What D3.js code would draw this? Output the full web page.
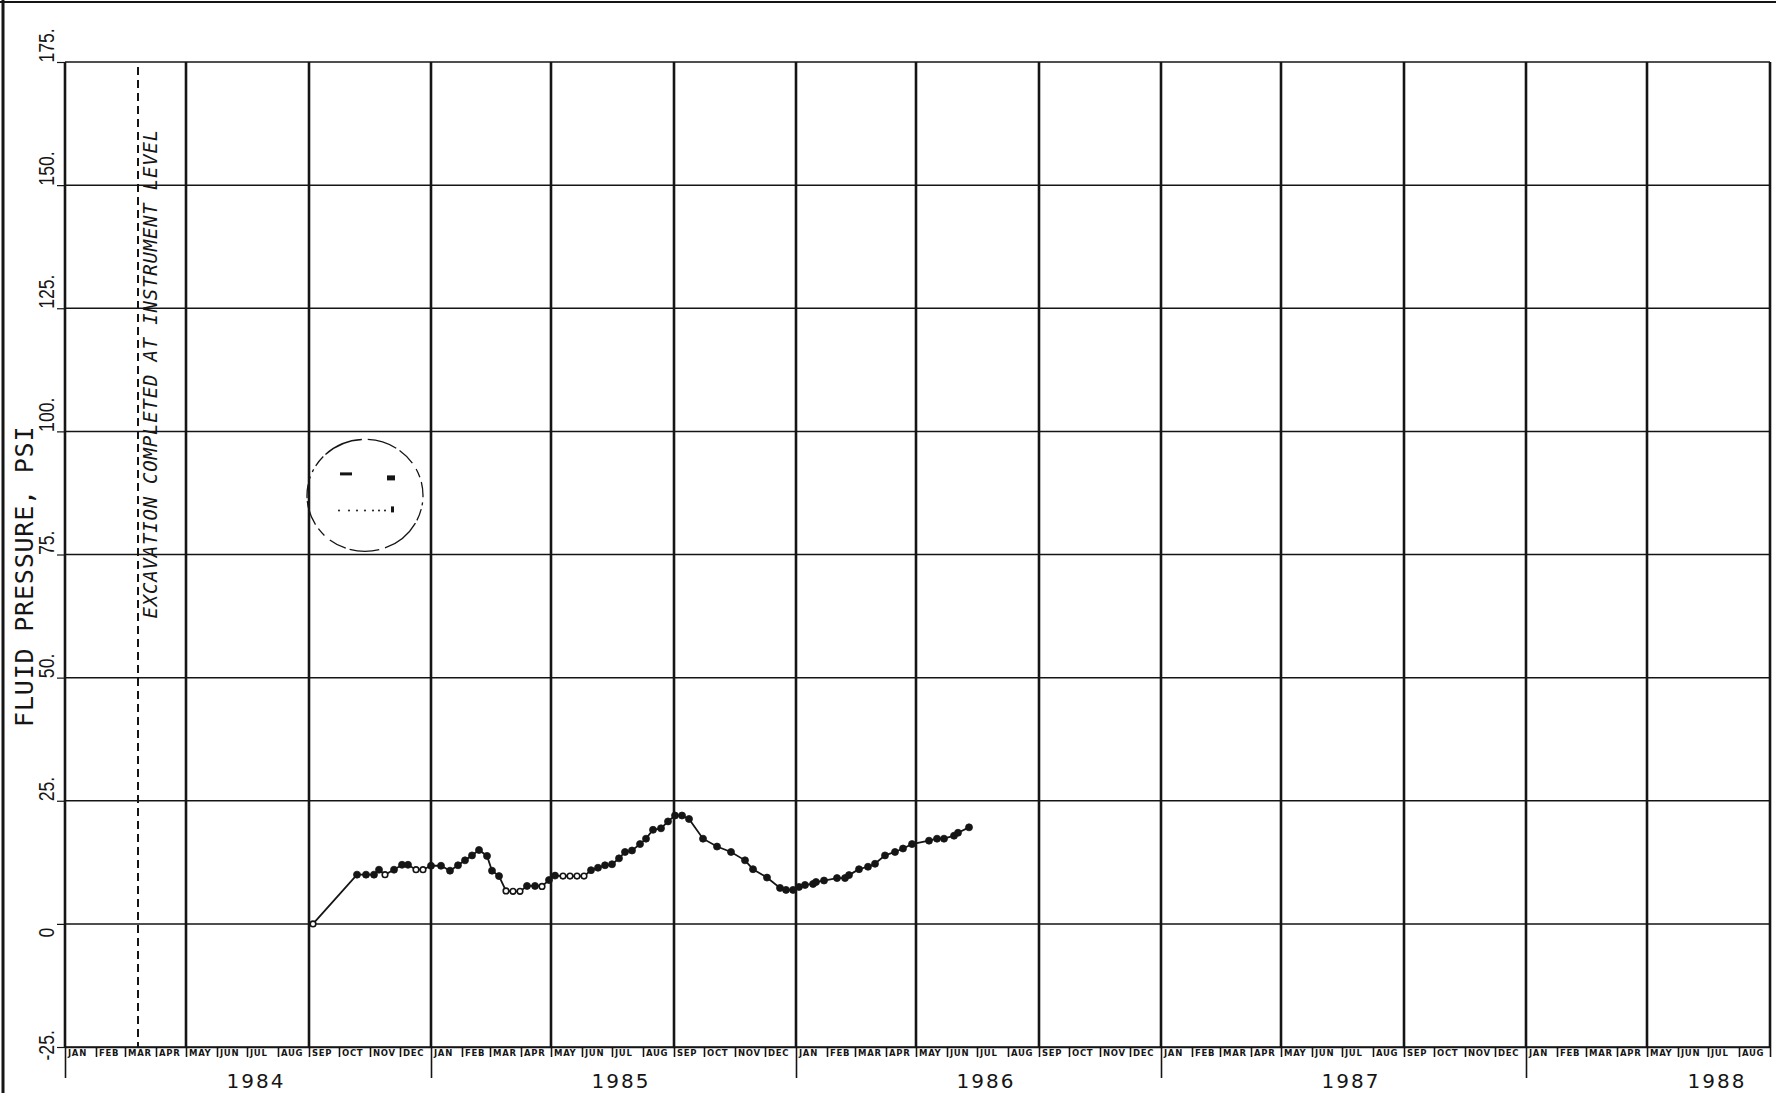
<!DOCTYPE html>
<html>
<head>
<meta charset="utf-8">
<script src="https://cdn.jsdelivr.net/npm/d3@7"></script>
<style>
  html, body { margin: 0; padding: 0; background: #fff; }
  svg { display: block; }
</style>
</head>
<body>
<svg id="chart" width="1776" height="1093"></svg>
<script>
// ---- data ----
const monthNames = ["JAN","FEB","MAR","APR","MAY","JUN","JUL","AUG","SEP","OCT","NOV","DEC"];
const yearLabels = [1984, 1985, 1986, 1987, 1988];
const pressureTicks = [-25, 0, 25, 50, 75, 100, 125, 150, 175];
const yTitle = "FLUID PRESSURE, PSI";
const excavationNote = "EXCAVATION COMPLETED AT INSTRUMENT LEVEL";
const excavationDate = "1984-03-14";

const readingDates = [
  "1984-09-05","1984-10-19","1984-10-28","1984-11-05","1984-11-10","1984-11-16","1984-11-25",
  "1984-12-03","1984-12-09","1984-12-17","1984-12-24",
  "1985-01-01","1985-01-11","1985-01-20","1985-01-28","1985-02-04","1985-02-11","1985-02-18",
  "1985-02-26","1985-03-03","1985-03-10","1985-03-17","1985-03-24","1985-03-31","1985-04-07",
  "1985-04-15","1985-04-22","1985-04-29","1985-05-05","1985-05-13","1985-05-20","1985-05-27",
  "1985-06-03","1985-06-10","1985-06-17","1985-06-24","1985-07-01","1985-07-08","1985-07-14",
  "1985-07-21","1985-07-29","1985-08-04","1985-08-11","1985-08-19","1985-08-26","1985-09-02",
  "1985-09-09","1985-09-16","1985-09-30","1985-10-14","1985-10-28","1985-11-11","1985-11-19",
  "1985-12-03","1985-12-16","1985-12-22","1985-12-29",
  "1986-01-04","1986-01-10","1986-01-18","1986-01-21","1986-01-29","1986-02-11","1986-02-19",
  "1986-02-23","1986-03-05","1986-03-14","1986-03-21","1986-03-31","1986-04-10","1986-04-18",
  "1986-04-27","1986-05-14","1986-05-22","1986-05-29","1986-06-08","1986-06-12","1986-06-23"
];
const pressurePsi = [
  0, 10, 10, 10, 11, 10, 11,
  12, 12, 11, 11,
  11.8, 11.8, 10.8, 11.9, 12.9, 13.9, 15.0,
  13.8, 10.8, 9.7, 6.7, 6.6, 6.6, 7.7,
  7.7, 7.6, 8.9, 9.8, 9.7, 9.7, 9.7,
  9.7, 10.9, 11.4, 11.9, 12.1, 13.3, 14.6,
  14.9, 16.2, 17.3, 19.1, 19.4, 20.8, 22.0,
  22.0, 21.3, 17.3, 15.7, 14.6, 12.9, 11.1,
  9.4, 7.3, 6.9, 6.9,
  7.5, 7.9, 8.1, 8.5, 8.8, 9.3, 9.3,
  9.9, 11.1, 11.6, 12.2, 13.9, 14.6, 15.3,
  16.2, 16.9, 17.3, 17.3, 17.9, 18.5, 19.6
];
// readings plotted with a ring symbol instead of a solid dot
const ringReadings = [
  "1984-09-05","1984-11-16","1984-12-17","1984-12-24","1985-03-17","1985-03-24","1985-03-31",
  "1985-04-22","1985-05-13","1985-05-20","1985-05-27","1985-06-03"
];

// ---- setup ----
const W = 1776, H = 1093;
const ink = "#151515";
const parse = d3.utcParse("%Y-%m-%d");
const svg = d3.select("#chart");

const start = new Date(Date.UTC(1984, 0, 1));
const end = new Date(Date.UTC(1988, 8, 1));
const x = d3.scaleUtc().domain([start, end]).range([65, 1770]);
const y = d3.scaleLinear().domain([-25, 175]).range([1047, 62]);

const readings = readingDates.map((d, i) => ({
  date: parse(d), psi: pressurePsi[i], ring: ringReadings.includes(d)
}));

// sheet border
svg.append("line").attr("x1", 0).attr("x2", W).attr("y1", 2).attr("y2", 2)
  .attr("stroke", ink).attr("stroke-width", 2);
svg.append("line").attr("x1", 3).attr("x2", 3).attr("y1", 0).attr("y2", H)
  .attr("stroke", ink).attr("stroke-width", 3);

// horizontal grid at each pressure tick
svg.append("g").selectAll("line").data(pressureTicks).join("line")
  .attr("x1", x.range()[0]).attr("x2", x.range()[1])
  .attr("y1", d => y(d)).attr("y2", d => y(d))
  .attr("stroke", ink).attr("stroke-width", 1.5);

// vertical grid every four months (Jan / May / Sep)
const gridMonths = d3.utcMonth.every(4).range(start, d3.utcDay.offset(end, 1));
svg.append("g").selectAll("line").data(gridMonths).join("line")
  .attr("x1", d => x(d)).attr("x2", d => x(d))
  .attr("y1", y(175)).attr("y2", y(-25))
  .attr("stroke", ink).attr("stroke-width", 2.6);

// pressure axis
const fmt = d => d < 0 ? "-" + Math.abs(d) + "." : d === 0 ? "0" : d + ".";
const yAxis = d3.axisLeft(y).tickValues(pressureTicks).tickSize(8).tickFormat(fmt);
const gy = svg.append("g").attr("transform", `translate(${x.range()[0]},0)`).call(yAxis);
gy.select(".domain").remove();
gy.selectAll(".tick line").attr("stroke", ink).attr("stroke-width", 1.2);
gy.selectAll(".tick text")
  .attr("x", 0).attr("dy", 0)
  .attr("fill", ink)
  .attr("font-family", "'Liberation Sans', Arial, sans-serif")
  .attr("font-size", 22)
  .attr("text-anchor", "start")
  .attr("transform", d => `translate(-11,${d <= 0 ? 13 : 0}) rotate(-90) scale(0.8,1)`);

// axis title
svg.append("text")
  .attr("transform", `translate(33,${y(40)}) rotate(-90)`)
  .attr("font-family", "'DejaVu Sans Mono', monospace")
  .attr("font-size", 25)
  .attr("letter-spacing", 0.8)
  .attr("fill", ink)
  .text(yTitle);

// month axis
const monthTicks = d3.utcMonth.range(start, d3.utcDay.offset(end, 1));
const xAxis = d3.axisBottom(x).tickValues(monthTicks).tickSize(10).tickSizeOuter(0).tickFormat("");
const gx = svg.append("g").attr("transform", `translate(0,${y(-25)})`).call(xAxis);
gx.select(".domain").attr("stroke", ink).attr("stroke-width", 1.6);
gx.selectAll(".tick line")
  .attr("stroke", ink).attr("stroke-width", 1.6)
  .attr("y2", d => d.getUTCMonth() === 0 ? 31 : 10);

svg.append("g").selectAll("text").data(d3.utcMonth.range(start, end)).join("text")
  .attr("x", d => x(d) + 3)
  .attr("y", y(-25) + 9)
  .attr("font-family", "'DejaVu Sans', sans-serif")
  .attr("font-weight", "bold")
  .attr("font-size", 8.5)
  .attr("letter-spacing", 0.7)
  .attr("fill", ink)
  .text(d => monthNames[d.getUTCMonth()]);

svg.append("g").selectAll("text").data(yearLabels).join("text")
  .attr("x", d => x(new Date(Date.UTC(d, 6, 10))))
  .attr("y", y(-25) + 41)
  .attr("text-anchor", "middle")
  .attr("font-family", "'DejaVu Sans', sans-serif")
  .attr("font-size", 20)
  .attr("letter-spacing", 2)
  .attr("fill", ink)
  .text(d => d);

// excavation marker
const xe = x(parse(excavationDate));
svg.append("line")
  .attr("x1", xe).attr("x2", xe).attr("y1", y(175) + 5).attr("y2", y(-25))
  .attr("stroke", ink).attr("stroke-width", 2).attr("stroke-dasharray", "8,5");
svg.append("text")
  .attr("transform", `translate(${xe + 19},${y(62)}) rotate(-90)`)
  .attr("font-family", "'DejaVu Sans Mono', monospace")
  .attr("font-style", "italic")
  .attr("font-size", 19)
  .attr("letter-spacing", 0.8)
  .attr("fill", ink)
  .text(excavationNote);

// receiving stamp
const stamp = svg.append("g")
  .attr("transform", `translate(${x(new Date(Date.UTC(1984, 9, 27)))},${y(87)})`)
  .attr("fill", ink);
stamp.append("ellipse").attr("rx", 58).attr("ry", 56)
  .attr("fill", "none").attr("stroke", ink).attr("stroke-width", 1.3)
  .attr("stroke-dasharray", "2 5 3 4 12 3 40 6 30 4 18 7 9 5 25 3 14 6");
stamp.append("rect").attr("x", -25).attr("y", -23).attr("width", 12).attr("height", 3);
stamp.append("rect").attr("x", 22).attr("y", -20).attr("width", 8).attr("height", 5);
stamp.selectAll("circle").data([-26, -16, -8, 0, 8, 14, 20]).join("circle")
  .attr("cx", d => d).attr("cy", 15).attr("r", 1);
stamp.append("rect").attr("x", 26).attr("y", 11).attr("width", 3).attr("height", 6);

// pressure record
svg.append("path").datum(readings)
  .attr("fill", "none").attr("stroke", ink).attr("stroke-width", 1.8)
  .attr("d", d3.line().x(d => x(d.date)).y(d => y(d.psi)));

svg.append("g").selectAll("circle").data(readings).join("circle")
  .attr("cx", d => x(d.date)).attr("cy", d => y(d.psi))
  .attr("r", d => d.ring ? 2.8 : 3.5)
  .attr("fill", d => d.ring ? "#fff" : ink)
  .attr("stroke", ink).attr("stroke-width", d => d.ring ? 1.6 : 0.8);
</script>
</body>
</html>
